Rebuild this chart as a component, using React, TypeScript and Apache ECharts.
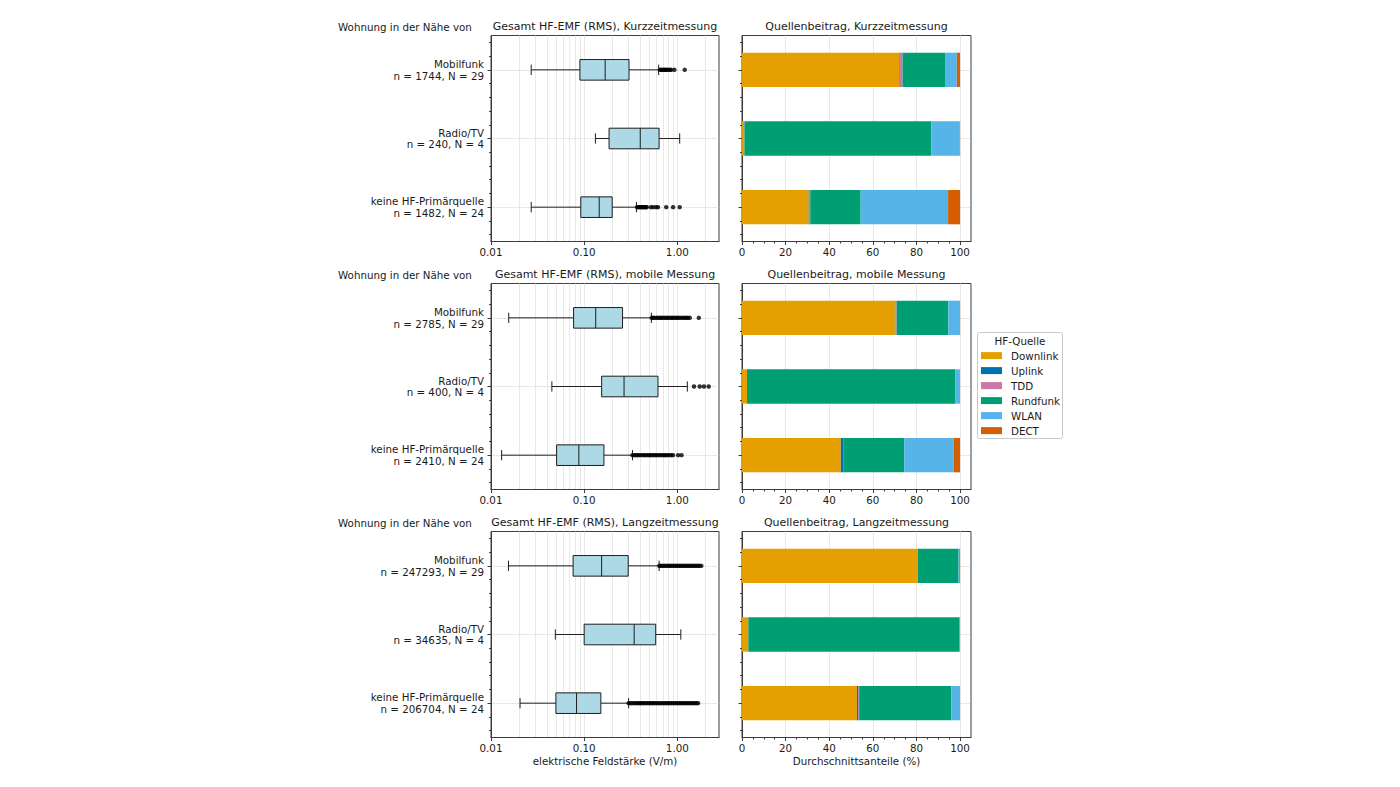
import React, { useEffect, useRef } from 'react';
import * as echarts from 'echarts';

// ---------- data ----------
const categories = ['Mobilfunk', 'Radio/TV', 'keine HF-Primärquelle'];
const countsKurz = ['n = 1744, N = 29', 'n = 240, N = 4', 'n = 1482, N = 24'];
const countsMobil = ['n = 2785, N = 29', 'n = 400, N = 4', 'n = 2410, N = 24'];
const countsLang = ['n = 247293, N = 29', 'n = 34635, N = 4', 'n = 206704, N = 24'];

const boxTitles = [
  'Gesamt HF-EMF (RMS), Kurzzeitmessung',
  'Gesamt HF-EMF (RMS), mobile Messung',
  'Gesamt HF-EMF (RMS), Langzeitmessung',
];
const shareTitles = [
  'Quellenbeitrag, Kurzzeitmessung',
  'Quellenbeitrag, mobile Messung',
  'Quellenbeitrag, Langzeitmessung',
];
const rowLabel = 'Wohnung in der Nähe von';

// [whisker low, Q1, median, Q3, whisker high] in V/m
const boxKurz = [
  [0.027, 0.09, 0.168, 0.303, 0.63],
  [0.132, 0.185, 0.4, 0.637, 1.06],
  [0.027, 0.092, 0.145, 0.2, 0.364],
];
const boxMobil = [
  [0.0155, 0.077, 0.133, 0.258, 0.527],
  [0.045, 0.154, 0.268, 0.62, 1.28],
  [0.013, 0.0506, 0.0877, 0.163, 0.33],
];
const boxLang = [
  [0.0154, 0.076, 0.154, 0.297, 0.637],
  [0.049, 0.1, 0.344, 0.586, 1.09],
  [0.0205, 0.0497, 0.0828, 0.151, 0.3],
];

// outliers (V/m)
const outKurz = [
  [0.65, 0.67, 0.69, 0.71, 0.73, 0.75, 0.77, 0.8, 0.83, 0.86, 0.93, 1.2],
  [],
  [0.37, 0.38, 0.39, 0.4, 0.41, 0.42, 0.43, 0.44, 0.45, 0.46, 0.47, 0.52, 0.55, 0.59, 0.62, 0.76, 0.9, 1.06],
];
const outMobil = [
  [0.53, 0.55, 0.57, 0.6, 0.62, 0.65, 0.67, 0.7, 0.73, 0.76, 0.79, 0.82, 0.86, 0.89, 0.93, 0.97, 1.01, 1.05, 1.1, 1.15, 1.2, 1.25, 1.3, 1.36, 1.7],
  [1.51, 1.74, 1.93, 2.17],
  [0.33, 0.345, 0.36, 0.375, 0.39, 0.41, 0.43, 0.45, 0.47, 0.49, 0.51, 0.53, 0.555, 0.58, 0.6, 0.63, 0.66, 0.69, 0.72, 0.75, 0.78, 0.82, 0.86, 0.9, 1.02, 1.11],
];
const outLang = [
  [0.64, 0.665, 0.69, 0.72, 0.75, 0.78, 0.81, 0.84, 0.875, 0.91, 0.95, 0.99, 1.03, 1.07, 1.11, 1.16, 1.2, 1.25, 1.3, 1.36, 1.41, 1.47, 1.53, 1.59, 1.66, 1.72, 1.81],
  [],
  [0.3, 0.31, 0.325, 0.34, 0.355, 0.37, 0.385, 0.4, 0.415, 0.43, 0.45, 0.47, 0.49, 0.51, 0.53, 0.55, 0.575, 0.6, 0.625, 0.65, 0.68, 0.71, 0.74, 0.77, 0.8, 0.83, 0.865, 0.9, 0.94, 0.98, 1.02, 1.06, 1.1, 1.15, 1.2, 1.25, 1.3, 1.35, 1.41, 1.47, 1.53, 1.6, 1.67],
];

const sources = ['Downlink', 'Uplink', 'TDD', 'Rundfunk', 'WLAN', 'DECT'];
const sourceColors = ['#E69F00', '#0072B2', '#CC79A7', '#009E73', '#56B4E9', '#D55E00'];

// shares (%) per category, columns follow `sources`
const shareKurz = [
  [72.0, 0.3, 1.3, 19.5, 5.4, 1.5],
  [1.0, 0.0, 0.1, 85.7, 13.0, 0.2],
  [30.6, 0.4, 0.3, 23.1, 40.1, 5.5],
];
const shareMobil = [
  [70.1, 0.2, 0.6, 23.7, 5.1, 0.3],
  [2.3, 0.0, 0.0, 95.6, 2.1, 0.0],
  [45.3, 1.0, 0.1, 28.0, 22.7, 2.9],
];
const shareLang = [
  [80.4, 0.1, 0.1, 18.7, 0.3, 0.4],
  [2.9, 0.0, 0.0, 96.9, 0.2, 0.0],
  [52.7, 0.7, 0.3, 42.3, 4.0, 0.0],
];

// ticks
const logMajorTicks = [0.01, 0.1, 1];
const logMinorTicks = [0.02, 0.03, 0.04, 0.05, 0.06, 0.07, 0.08, 0.09, 0.2, 0.3, 0.4, 0.5, 0.6, 0.7, 0.8, 0.9, 2];
const shareMajorTicks = [0, 20, 40, 60, 80, 100];
const shareMinorTicks = [5, 10, 15, 25, 30, 35, 45, 50, 55, 65, 70, 75, 85, 90, 95];
const catMajorTicks = [1, 2, 3];
const catMinorTicks = [0.6, 0.8, 1.2, 1.4, 1.6, 1.8, 2.2, 2.4, 2.6, 2.8, 3.2, 3.4];

const xLabelLeft = 'elektrische Feldstärke (V/m)';
const xLabelRight = 'Durchschnittsanteile (%)';
const legendTitle = 'HF-Quelle';

// ---------- styling ----------
const FONT = 'DejaVu Sans';
const TXT = '#1a1a1a';
const SPINE = '#3c3c3c';
const GRIDC = '#c6c6c6';
const FS = 10.3;

const rowTops = [35.5, 283.5, 531.5];
const ROW_H = 206;
const LEFT_X = 491;
const LEFT_W = 228;
const RIGHT_X = 742;
const RIGHT_W = 229;

function buildOption() {
  const measurements = [
    { box: boxKurz, out: outKurz, share: shareKurz, counts: countsKurz },
    { box: boxMobil, out: outMobil, share: shareMobil, counts: countsMobil },
    { box: boxLang, out: outLang, share: shareLang, counts: countsLang },
  ];
  const grid: any[] = [];
  const xAxis: any[] = [];
  const yAxis: any[] = [];
  const series: any[] = [];
  const graphic: any[] = [];
  const dotted = { color: GRIDC, type: 'dotted', width: 0.8 };
  const tickStyle = { color: SPINE, width: 1 };
  const labelStyle = { fontSize: FS, color: TXT, fontFamily: FONT };

  measurements.forEach((m, r) => {
    const top = rowTops[r];
    [0, 1].forEach((side) => {
      const g = r * 2 + side;
      const isLeft = side === 0;
      grid.push({
        left: isLeft ? LEFT_X : RIGHT_X,
        top,
        width: isLeft ? LEFT_W : RIGHT_W,
        height: ROW_H,
        show: true,
        borderColor: SPINE,
        borderWidth: 1,
        backgroundColor: 'rgba(0,0,0,0)',
        containLabel: false,
        outerBoundsMode: 'none',
      });
      // x axes: main + minor
      const xMain: any = {
        gridIndex: g,
        position: 'bottom',
        axisLine: { show: true, onZero: false, lineStyle: tickStyle },
        axisTick: { show: true, length: 3.5, lineStyle: tickStyle, customValues: isLeft ? logMajorTicks : shareMajorTicks },
        axisLabel: {
          show: true,
          margin: 5,
          ...labelStyle,
          customValues: isLeft ? logMajorTicks : shareMajorTicks,
          formatter: isLeft ? (v: number) => Number(v).toFixed(2) : (v: number) => String(Math.round(v)),
        },
        splitLine: { show: true, lineStyle: dotted },
      };
      if (isLeft) {
        Object.assign(xMain, { type: 'log', logBase: 10, min: 0.01, max: 2.8 });
      } else {
        Object.assign(xMain, { type: 'value', min: 0, max: 105 });
      }
      if (r === 2) {
        Object.assign(xMain, {
          name: isLeft ? xLabelLeft : xLabelRight,
          nameLocation: 'middle',
          nameGap: 18,
          nameTextStyle: { ...labelStyle },
        });
      }
      xAxis.push(xMain);
      const xMinor: any = {
        gridIndex: g,
        position: 'bottom',
        axisLine: { show: false, onZero: false },
        axisTick: isLeft
          ? { show: false, customValues: logMinorTicks }
          : { show: true, length: 2, lineStyle: tickStyle, customValues: shareMinorTicks },
        axisLabel: { show: false },
        splitLine: isLeft ? { show: true, lineStyle: dotted } : { show: false },
      };
      if (isLeft) {
        Object.assign(xMinor, { type: 'log', logBase: 10, min: 0.01, max: 2.8 });
      } else {
        Object.assign(xMinor, { type: 'value', min: 0, max: 105 });
      }
      xAxis.push(xMinor);

      // y axes: category (data), major ticks, minor ticks
      yAxis.push({
        type: 'category',
        gridIndex: g,
        position: 'left',
        data: categories,
        inverse: true,
        axisLine: { show: true, onZero: false, lineStyle: tickStyle },
        axisTick: { show: false },
        splitLine: { show: false },
        axisLabel: isLeft
          ? {
              show: true,
              interval: 0,
              margin: 7,
              align: 'right',
              lineHeight: 11.5,
              ...labelStyle,
              formatter: (v: string, i: number) => v + '\n' + m.counts[i],
            }
          : { show: false },
      });
      yAxis.push({
        type: 'value',
        gridIndex: g,
        position: 'left',
        min: 0.5,
        max: 3.5,
        inverse: true,
        axisLine: { show: false, onZero: false },
        axisTick: { show: true, length: 3.5, lineStyle: tickStyle, customValues: catMajorTicks },
        axisLabel: { show: false, customValues: catMajorTicks },
        splitLine: { show: true, lineStyle: dotted },
      });
      yAxis.push({
        type: 'value',
        gridIndex: g,
        position: 'left',
        min: 0.5,
        max: 3.5,
        inverse: true,
        axisLine: { show: false, onZero: false },
        axisTick: { show: true, length: 2, lineStyle: tickStyle, customValues: catMinorTicks },
        axisLabel: { show: false, customValues: catMinorTicks },
        splitLine: { show: false },
      });

      const xi = g * 2;
      const yi = g * 3;
      if (isLeft) {
        series.push({
          type: 'custom',
          xAxisIndex: xi,
          yAxisIndex: yi,
          z: 3,
          data: m.box.map((b, i) => [i, ...b]),
          encode: { x: [1, 2, 3, 4, 5], y: 0 },
          renderItem: (params: any, api: any) => {
            const c = api.value(0);
            const vals = [1, 2, 3, 4, 5].map((k) => api.value(k));
            const pts = vals.map((v) => api.coord([v, c]));
            const band = api.size([1, 1], [vals[2], c])[1];
            const half = band * 0.15;
            const cap = band * 0.075;
            const y = pts[0][1];
            const ls = { stroke: '#1e1e1e', lineWidth: 1, fill: null };
            return {
              type: 'group',
              children: [
                { type: 'line', shape: { x1: pts[0][0], y1: y, x2: pts[1][0], y2: y }, style: ls },
                { type: 'line', shape: { x1: pts[3][0], y1: y, x2: pts[4][0], y2: y }, style: ls },
                { type: 'line', shape: { x1: pts[0][0], y1: y - cap, x2: pts[0][0], y2: y + cap }, style: ls },
                { type: 'line', shape: { x1: pts[4][0], y1: y - cap, x2: pts[4][0], y2: y + cap }, style: ls },
                {
                  type: 'rect',
                  shape: { x: pts[1][0], y: y - half, width: pts[3][0] - pts[1][0], height: 2 * half },
                  style: { fill: '#add8e6', stroke: '#1e1e1e', lineWidth: 1 },
                },
                { type: 'line', shape: { x1: pts[2][0], y1: y - half, x2: pts[2][0], y2: y + half }, style: ls },
              ],
            };
          },
        });
        series.push({
          type: 'scatter',
          xAxisIndex: xi,
          yAxisIndex: yi,
          z: 4,
          symbol: 'circle',
          symbolSize: 4.5,
          itemStyle: { color: '#000' },
          data: m.out.flatMap((list, i) => list.map((v) => [v, i])),
        });
      } else {
        sources.forEach((s, k) => {
          series.push({
            type: 'bar',
            name: s,
            xAxisIndex: xi,
            yAxisIndex: yi,
            stack: 'share' + r,
            barWidth: '50%',
            itemStyle: { color: sourceColors[k] },
            data: m.share.map((row) => row[k]),
          });
        });
      }
    });

    const ty = top - 9;
    graphic.push({
      type: 'text',
      x: 338,
      y: ty,
      style: { text: rowLabel, fontSize: FS, fontFamily: FONT, fill: TXT, textAlign: 'left', textVerticalAlign: 'middle' },
    });
    graphic.push({
      type: 'text',
      x: LEFT_X + LEFT_W / 2,
      y: ty,
      style: { text: boxTitles[r], fontSize: 11, fontFamily: FONT, fill: TXT, textAlign: 'center', textVerticalAlign: 'middle' },
    });
    graphic.push({
      type: 'text',
      x: RIGHT_X + RIGHT_W / 2,
      y: ty,
      style: { text: shareTitles[r], fontSize: 11, fontFamily: FONT, fill: TXT, textAlign: 'center', textVerticalAlign: 'middle' },
    });
  });

  // legend frame & title
  graphic.push({
    type: 'rect',
    z: 1,
    shape: { x: 977.5, y: 332.5, width: 85, height: 106, r: 2 },
    style: { fill: 'rgba(255,255,255,0.85)', stroke: '#c8c8c8', lineWidth: 1 },
  });
  graphic.push({
    type: 'text',
    z: 2,
    x: 1020,
    y: 340.5,
    style: { text: legendTitle, fontSize: FS, fontFamily: FONT, fill: TXT, textAlign: 'center', textVerticalAlign: 'middle' },
  });

  return {
    animation: false,
    backgroundColor: '#ffffff',
    textStyle: { fontFamily: FONT },
    grid,
    xAxis,
    yAxis,
    series,
    graphic,
    legend: {
      data: sources,
      orient: 'vertical',
      left: 981,
      top: 349.6,
      padding: 0,
      itemWidth: 21,
      itemHeight: 7,
      itemGap: 3,
      icon: 'rect',
      selectedMode: false,
      itemStyle: { borderWidth: 0 },
      textStyle: { fontSize: FS, color: TXT, fontFamily: FONT, lineHeight: 12, padding: [0, 0, 0, 4] },
      z: 5,
    },
  };
}

export default function App() {
  const ref = useRef<HTMLDivElement>(null);
  useEffect(() => {
    if (!ref.current) return;
    const chart = echarts.init(ref.current, undefined, { renderer: 'svg' });
    chart.setOption(buildOption() as any);
    return () => chart.dispose();
  }, []);
  return <div ref={ref} style={{ position: 'absolute', left: 0, top: 0, width: 1400, height: 787 }} />;
}
